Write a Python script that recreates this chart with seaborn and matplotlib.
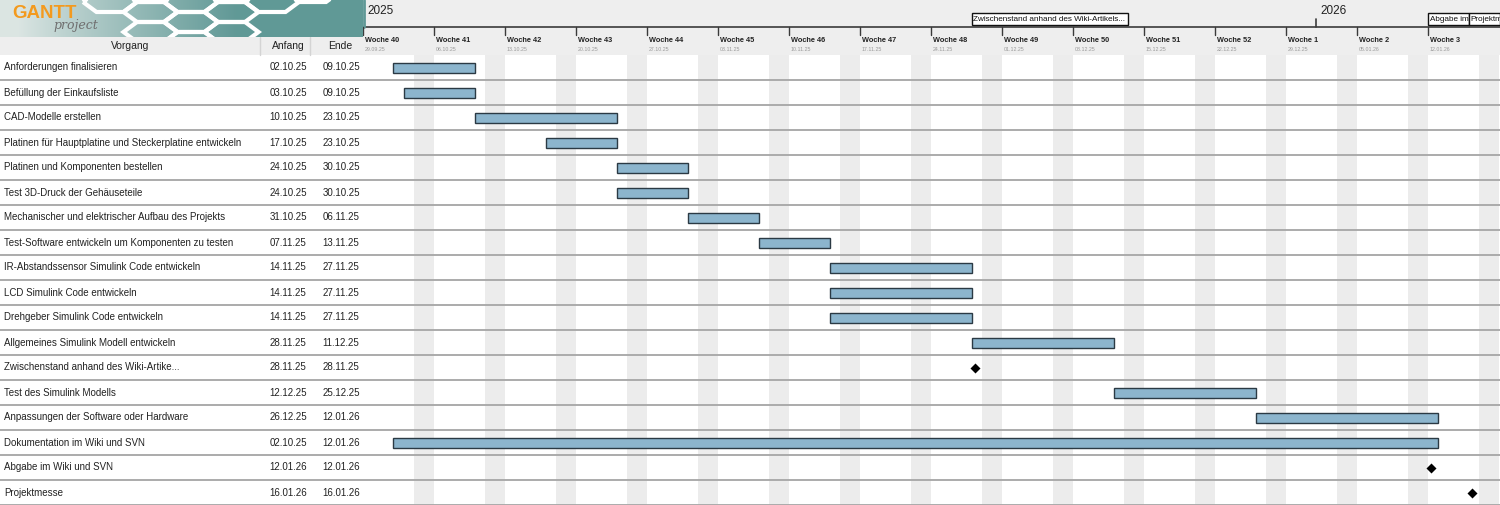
import matplotlib
matplotlib.use("Agg")
import numpy as np
import pandas as pd
import matplotlib.pyplot as plt
import seaborn as sns
from matplotlib.patches import Rectangle, Polygon
from matplotlib.transforms import Bbox, TransformedBbox

# ---------------- data ----------------
tasks = [
    "Anforderungen finalisieren",
    "Befüllung der Einkaufsliste",
    "CAD-Modelle erstellen",
    "Platinen für Hauptplatine und Steckerplatine entwickeln",
    "Platinen und Komponenten bestellen",
    "Test 3D-Druck der Gehäuseteile",
    "Mechanischer und elektrischer Aufbau des Projekts",
    "Test-Software entwickeln um Komponenten zu testen",
    "IR-Abstandssensor Simulink Code entwickeln",
    "LCD Simulink Code entwickeln",
    "Drehgeber Simulink Code entwickeln",
    "Allgemeines Simulink Modell entwickeln",
    "Zwischenstand anhand des Wiki-Artike...",
    "Test des Simulink Modells",
    "Anpassungen der Software oder Hardware",
    "Dokumentation im Wiki und SVN",
    "Abgabe im Wiki und SVN",
    "Projektmesse",
]
starts = [
    "02.10.25", "03.10.25", "10.10.25", "17.10.25", "24.10.25", "24.10.25",
    "31.10.25", "07.11.25", "14.11.25", "14.11.25", "14.11.25", "28.11.25",
    "28.11.25", "12.12.25", "26.12.25", "02.10.25", "12.01.26", "16.01.26",
]
ends = [
    "09.10.25", "09.10.25", "23.10.25", "23.10.25", "30.10.25", "30.10.25",
    "06.11.25", "13.11.25", "27.11.25", "27.11.25", "27.11.25", "11.12.25",
    "28.11.25", "25.12.25", "12.01.26", "12.01.26", "12.01.26", "16.01.26",
]
is_milestone = [False] * 12 + [True] + [False] * 3 + [True, True]
milestone_labels = [
    "Zwischenstand anhand des Wiki-Artikels...",
    "Abgabe im Wiki und SVN",
    "Projektmesse",
]
column_labels = ["Vorgang", "Anfang", "Ende"]
view_start = "29.09.25"

# ---------------- layout constants ----------------
W, H = 1500, 505
TAB_W = 363
HEAD_PX = 55
ROW_PX = 25
LOGO_PX = 37
PX_PER_DAY = 71 / 7
n = len(tasks)
y_top = -HEAD_PX / ROW_PX
def py(px):  # header pixel offset -> row coords
    return y_top + px / ROW_PX

sns.set_theme(style="white")
plt.rcParams['font.family'] = ['Liberation Sans', 'DejaVu Sans']

df = pd.DataFrame({
    "task": tasks,
    "start": pd.to_datetime(starts, format="%d.%m.%y"),
    "end": pd.to_datetime(ends, format="%d.%m.%y"),
    "milestone": is_milestone,
})
origin = pd.to_datetime(view_start, format="%d.%m.%y")
df["s"] = (df["start"] - origin).dt.days
df["e"] = (df["end"] - origin).dt.days + 1
df["row"] = np.arange(n) + 0.5
span = (W - TAB_W) / PX_PER_DAY

fig = plt.figure(figsize=(W / 100, H / 100), dpi=100)
ax = fig.add_axes([TAB_W / W, 0, 1 - TAB_W / W, 1])
ax_t = fig.add_axes([0, 0, TAB_W / W, 1])
for a in (ax, ax_t):
    a.set_ylim(n, y_top)
    a.axis("off")
ax.set_xlim(0, span)
ax_t.set_xlim(0, TAB_W)

HDR_BG = "#eeeeee"
LINE = "#ababab"

# ---------------- chart header ----------------
ax.add_patch(Rectangle((0, y_top), span, -y_top, color=HDR_BG, zorder=0, lw=0))
y_line = py(27)
ax.plot([0, span], [y_line, y_line], color="#3a3a3a", lw=1.2, zorder=2)
ax.plot([0.05, 0.05], [y_top, y_line], color="#5f9896", lw=2.0, zorder=2)

# years
ax.text(0.4, py(11), str(origin.year), fontsize=8.5, color="#222", va="center", ha="left")
for yr in range(origin.year + 1, origin.year + 2):
    d = (pd.Timestamp(f"{yr}-01-01") - origin).days
    if d < span:
        ax.plot([d, d], [py(19), y_line], color="#3a3a3a", lw=1.2)
        ax.text(d + 0.35, py(11), str(yr), fontsize=8.5, color="#222", va="center", ha="left")

# weeks
week_days = np.arange(0, span - 1, 7)
for d in week_days:
    dt = origin + pd.Timedelta(days=int(d))
    ax.plot([d, d], [y_line, py(35)], color="#3a3a3a", lw=1.0)
    ax.text(d + 0.2, py(40), f"Woche {dt.isocalendar()[1]}", fontsize=5.3,
            fontweight="bold", color="#222", va="center", ha="left")
    ax.text(d + 0.2, py(49.5), dt.strftime("%d.%m.%y"), fontsize=3.8,
            color="#9a9a9a", va="center", ha="left")

# weekends
for d in range(0, int(span) + 1):
    if (origin + pd.Timedelta(days=d)).weekday() == 5:
        ax.add_patch(Rectangle((d, 0), 2, n, color="#ececec", lw=0, zorder=0))

# row lines
for i in range(1, n + 1):
    ax.axhline(i, color=LINE, lw=1.4, zorder=1)
    ax_t.axhline(i, color=LINE, lw=1.4, zorder=1)

# bars
bars = df[~df["milestone"]]
ax.barh(bars["row"], bars["e"] - bars["s"], left=bars["s"], height=0.4,
        color="#8cb5cd", edgecolor="#2b3a44", linewidth=1.0, zorder=3)

# milestones
ms = df[df["milestone"]].copy()
ms["xm"] = ms["s"] + 0.3
sns.scatterplot(data=ms, x="xm", y="row", marker="D", s=26, color="black",
                linewidth=0, zorder=4, ax=ax, legend=False)
ax.set_xlim(0, span)
ax.set_ylim(n, y_top)
ax.axis("off")

# milestone labels in header
fig.canvas.draw()
renderer = fig.canvas.get_renderer()
px_day = ax.get_window_extent().width / span
ms_starts = list(ms["s"])
for k, (lab, s) in enumerate(zip(milestone_labels, ms_starts)):
    t = ax.text(s + 0.15, py(19.5), lab, fontsize=5.9, color="#111", va="center",
                ha="left", zorder=6)
    tw = t.get_window_extent(renderer).width / px_day + 0.4
    limit = ms_starts[k + 1] if k + 1 < len(ms_starts) else span
    bw = min(tw, limit - s)
    r = Rectangle((s, py(13)), bw, py(25) - py(13), facecolor="white",
                  edgecolor="#111", lw=1.0, zorder=5)
    ax.add_patch(r)
    t.set_clip_on(True)
    t.set_clip_box(TransformedBbox(Bbox([[s, py(13)], [s + bw, py(25)]]), ax.transData))

# ---------------- logo ----------------
ax_l = fig.add_axes([0, 1 - LOGO_PX / H, TAB_W / W, LOGO_PX / H])
ax_l.set_xlim(0, TAB_W)
ax_l.set_ylim(LOGO_PX, 0)
ax_l.axis("off")
grad = np.linspace(0, 1, 363)
grad = np.clip((grad - 0.05) / 0.6, 0, 1) ** 0.9
c0 = np.array([0.86, 0.90, 0.89])
c1 = np.array([0.38, 0.60, 0.59])
img = c0[None, None, :] * (1 - grad[None, :, None]) + c1[None, None, :] * grad[None, :, None]
ax_l.imshow(img, extent=[0, TAB_W, LOGO_PX, 0], aspect="auto", zorder=0)
clip = Rectangle((0, 0), TAB_W, LOGO_PX, transform=ax_l.transData)
RX, RY = 27, 10
for col in range(0, 6):
    cx = 110 + col * 1.5 * RX
    off = 0 if col % 2 == 0 else RY
    for rr in range(-1, 3):
        cy = 2 + rr * 2 * RY + off
        if cx + cy * 2.2 > 320 or cx - cy * 1.5 < 85:
            continue
        verts = [(cx - RX, cy), (cx - RX / 2, cy - RY), (cx + RX / 2, cy - RY),
                 (cx + RX, cy), (cx + RX / 2, cy + RY), (cx - RX / 2, cy + RY)]
        hp = Polygon(verts, closed=True, facecolor="none", edgecolor="white",
                     lw=3.0, joinstyle="miter", zorder=1)
        ax_l.add_patch(hp)
        hp.set_clip_path(clip)
ax_l.set_xlim(0, TAB_W)
ax_l.set_ylim(LOGO_PX, 0)
ax_l.text(12, 13, "GANTT", fontsize=13.5, fontweight="bold", color="#f39a1e",
          va="center", ha="left", zorder=3)
ax_l.text(53, 25, "project", fontsize=9, style="italic", color="#6f6f6f",
          family="DejaVu Serif", va="center", ha="left", zorder=3)

# ---------------- table ----------------
ax_t.add_patch(Rectangle((0, py(37)), TAB_W, py(55) - py(37), color=HDR_BG, lw=0, zorder=0))
for xs in (260, 310):
    ax_t.plot([xs, xs], [py(37), py(55)], color="#d4d4d4", lw=1)
for lab, xc in zip(column_labels, (130, 288, 340)):
    ax_t.text(xc, py(46), lab, fontsize=7.5, color="#222", va="center", ha="center")

for i, row in df.iterrows():
    ax_t.text(4, row["row"], row["task"], fontsize=7.0, color="#222", va="center", ha="left")
    ax_t.text(288, row["row"], row["start"].strftime("%d.%m.%y"), fontsize=7.0,
              color="#222", va="center", ha="center")
    ax_t.text(341, row["row"], row["end"].strftime("%d.%m.%y"), fontsize=7.0,
              color="#222", va="center", ha="center")

fig.savefig("out.png", dpi=100)
